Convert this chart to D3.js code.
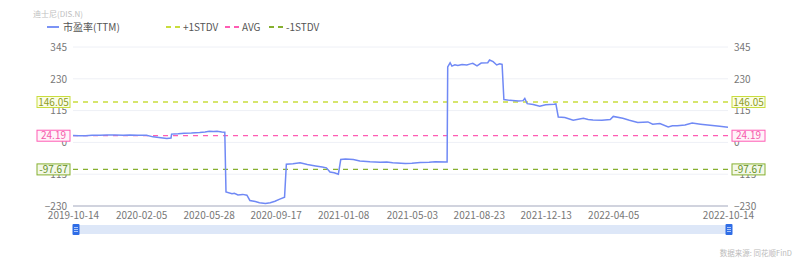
<!DOCTYPE html>
<html>
<head>
<meta charset="utf-8">
<script src="https://cdn.jsdelivr.net/npm/d3@7"></script>
<style>
  body { margin: 0; background: #fff; }
  text { font-family: "Noto Sans CJK SC", "Noto Sans", sans-serif; }
</style>
</head>
<body>
<div id="chart-area"></div>
<script>
const dates = [
  "2019-10-14", "2019-10-24", "2019-11-04", "2019-11-15", "2019-11-28", "2019-12-10",
  "2019-12-23", "2020-01-06", "2020-01-17", "2020-01-30", "2020-02-14",
  "2020-02-25", "2020-03-09", "2020-03-19", "2020-03-26", "2020-03-27", "2020-04-07",
  "2020-04-17", "2020-04-29", "2020-05-13", "2020-05-22", "2020-05-29", "2020-06-05",
  "2020-06-11", "2020-06-19", "2020-06-24", "2020-06-26",
  "2020-07-06", "2020-07-10", "2020-07-16", "2020-07-24", "2020-07-31", "2020-08-05",
  "2020-08-14", "2020-08-21", "2020-08-31", "2020-09-08", "2020-09-16", "2020-09-24",
  "2020-10-02", "2020-10-05", "2020-10-16", "2020-10-28", "2020-11-09", "2020-11-23",
  "2020-12-04", "2020-12-11", "2020-12-17", "2020-12-24", "2020-12-31", "2021-01-04",
  "2021-01-12", "2021-01-25", "2021-02-05", "2021-02-22", "2021-03-11", "2021-03-22",
  "2021-04-01", "2021-04-22", "2021-05-03", "2021-05-17", "2021-06-01", "2021-06-11",
  "2021-07-01", "2021-07-02", "2021-07-06", "2021-07-09", "2021-07-14", "2021-07-19",
  "2021-07-26", "2021-08-03", "2021-08-09", "2021-08-13", "2021-08-20", "2021-08-27",
  "2021-09-07", "2021-09-10", "2021-09-16", "2021-09-22", "2021-09-27", "2021-10-01",
  "2021-10-04", "2021-10-14", "2021-10-28", "2021-11-05", "2021-11-08", "2021-11-12",
  "2021-11-22", "2021-12-03", "2021-12-13", "2021-12-27", "2021-12-30", "2022-01-03",
  "2022-01-14", "2022-01-28", "2022-02-14", "2022-02-22", "2022-03-02", "2022-03-17",
  "2022-03-31", "2022-04-05", "2022-04-21", "2022-05-02", "2022-05-16", "2022-06-02",
  "2022-06-10", "2022-06-22", "2022-07-06", "2022-07-13", "2022-07-21", "2022-08-03",
  "2022-08-15", "2022-08-29", "2022-09-14", "2022-09-22", "2022-09-30", "2022-10-14"
];
const pe = [
  25, 24, 24, 26, 26, 27,
  27, 26, 27, 26, 26,
  20, 17, 14, 16, 30, 31,
  33, 34, 36, 38, 40, 39,
  40, 38, 37, -179,
  -186, -184, -190, -188, -191, -210,
  -214, -218, -221, -218, -213, -205,
  -198, -79, -77, -74, -80, -85,
  -89, -92, -107, -110, -115, -62,
  -60, -62, -67, -70, -72, -71,
  -74, -76, -75, -73, -72, -70,
  -71, 273, 288, 276, 281, 278,
  282, 280, 284, 286, 277, 287,
  288, 298, 292, 280, 284, 282,
  155, 152, 150, 151, 159, 140,
  137, 131, 136, 138, 139, 92,
  90, 80, 87, 83, 81, 80,
  83, 94, 87, 80, 72, 74,
  66, 68, 56, 60, 60, 63,
  70, 66, 62, 60, 58, 55
];
const tickDates = [
  "2019-10-14", "2020-02-05", "2020-05-28", "2020-09-17", "2021-01-08",
  "2021-05-03", "2021-08-23", "2021-12-13", "2022-04-05", "2022-10-14"
];
const yTicks = [345, 230, 115, 0, -115, -230];
const refNames = ["+1STDV", "AVG", "-1STDV"];
const refValues = [146.05, 24.19, -97.67];
const refColors = ["#c9dd3c", "#ff5cb4", "#86b030"];
const refTextColors = ["#8f9d1e", "#f55aab", "#65901e"];
const refFills = ["#fbfde9", "#fff3f9", "#f3f8e8"];

const width = 800;
const height = 263;
const plot = { left: 73, right: 728, top: 47, bottom: 206 };

const parse = d3.timeParse("%Y-%m-%d");
const data = dates.map((d, i) => ({ date: parse(d), value: pe[i] }));

const svg = d3.select("#chart-area")
  .append("svg")
    .attr("width", width)
    .attr("height", height);

const x = d3.scaleTime()
  .domain([parse(dates[0]), parse(dates[dates.length - 1])])
  .range([plot.left, plot.right]);

const y = d3.scaleLinear()
  .domain([-230, 345])
  .range([plot.bottom, plot.top]);

// title + legend
svg.append("text")
  .attr("x", 33)
  .attr("y", 17)
  .attr("font-size", "8px")
  .attr("fill", "#c0c0c0")
  .text("迪士尼(DIS.N)");

const legend = svg.append("g").attr("transform", "translate(0, 27)");
legend.append("line")
  .attr("x1", 47).attr("x2", 59)
  .attr("stroke", "#7b93f5").attr("stroke-width", 2);
legend.append("text")
  .attr("x", 63).attr("y", 3.5)
  .attr("font-size", "10px").attr("fill", "#555")
  .text("市盈率(TTM)");

const legendX = [166, 225, 269];
refNames.forEach((name, i) => {
  legend.append("line")
    .attr("x1", legendX[i]).attr("x2", legendX[i] + 14)
    .attr("stroke", refColors[i]).attr("stroke-width", 2)
    .attr("stroke-dasharray", "5,4");
  legend.append("text")
    .attr("x", legendX[i] + 17).attr("y", 3.5)
    .attr("font-size", "10px").attr("fill", "#555")
    .text(name);
});

// grid
svg.append("g")
  .selectAll("line")
  .data(yTicks.filter(d => d !== -230))
  .enter()
  .append("line")
    .attr("x1", plot.left).attr("x2", plot.right)
    .attr("y1", d => y(d)).attr("y2", d => y(d))
    .attr("stroke", "#eef0f6");

svg.append("line")
  .attr("x1", plot.left).attr("x2", plot.right)
  .attr("y1", y(-230)).attr("y2", y(-230))
  .attr("stroke", "#a2a7bd");

// y labels both sides
const yAxisLeft = d3.axisLeft(y).tickValues(yTicks).tickSize(0).tickPadding(6);
const yAxisRight = d3.axisRight(y).tickValues(yTicks).tickSize(0).tickPadding(6);

svg.append("g")
  .attr("class", "y-axis")
  .attr("transform", `translate(${plot.left}, 0)`)
  .call(yAxisLeft);

svg.append("g")
  .attr("class", "y-axis")
  .attr("transform", `translate(${plot.right}, 0)`)
  .call(yAxisRight);

svg.selectAll(".y-axis .domain").remove();
svg.selectAll(".y-axis text")
  .attr("font-size", "10px")
  .attr("fill", "#777")
  .attr("font-family", "\"Noto Sans\", sans-serif");

// x labels
const fmt = d3.timeFormat("%Y-%m-%d");
const xAxisCall = d3.axisBottom(x)
  .tickValues(tickDates.map(parse))
  .tickFormat(fmt)
  .tickSize(0)
  .tickPadding(6);

svg.append("g")
  .attr("class", "x-axis")
  .attr("transform", `translate(0, ${plot.bottom})`)
  .call(xAxisCall);

svg.selectAll(".x-axis .domain").remove();
svg.selectAll(".x-axis text")
  .attr("font-size", "10px")
  .attr("fill", "#777")
  .attr("font-family", "\"Noto Sans\", sans-serif");

// reference lines
refValues.forEach((v, i) => {
  svg.append("line")
    .attr("x1", plot.left).attr("x2", plot.right)
    .attr("y1", y(v)).attr("y2", y(v))
    .attr("stroke", refColors[i])
    .attr("stroke-width", 1.3)
    .attr("stroke-dasharray", "5,5");
});

// PE line
const line = d3.line()
  .x(d => x(d.date))
  .y(d => y(d.value));

svg.append("path")
  .datum(data)
  .attr("fill", "none")
  .attr("stroke", "#7089f5")
  .attr("stroke-width", 1.5)
  .attr("d", line);

// value boxes
refValues.forEach((v, i) => {
  [[37, 70], [732, 765]].forEach(([bx0, bx1]) => {
    svg.append("rect")
      .attr("x", bx0).attr("y", y(v) - 5.5)
      .attr("width", bx1 - bx0).attr("height", 11)
      .attr("fill", refFills[i])
      .attr("stroke", refColors[i]);
    svg.append("text")
      .attr("x", (bx0 + bx1) / 2).attr("y", y(v) + 3.5)
      .attr("text-anchor", "middle")
      .attr("font-size", "10px")
      .attr("font-family", "\"Noto Sans\", sans-serif")
      .attr("fill", refTextColors[i])
      .text(v.toFixed(2));
  });
});

// data zoom slider
svg.append("rect")
  .attr("x", plot.left).attr("y", 225)
  .attr("width", plot.right - plot.left).attr("height", 9)
  .attr("fill", "#dde7f8");

[76, 729].forEach(hx => {
  svg.append("rect")
    .attr("x", hx - 3.5).attr("y", 224)
    .attr("width", 7).attr("height", 11)
    .attr("rx", 1)
    .attr("fill", "#2f6de6");
  [227.5, 229.5, 231.5].forEach(ly => {
    svg.append("line")
      .attr("x1", hx - 2).attr("x2", hx + 2)
      .attr("y1", ly).attr("y2", ly)
      .attr("stroke", "#cfe0ff").attr("stroke-width", 0.8);
  });
});

svg.append("text")
  .attr("x", 792).attr("y", 256)
  .attr("text-anchor", "end")
  .attr("font-size", "7.5px")
  .attr("fill", "#bbb")
  .text("数据来源: 同花顺FinD");
</script>
</body>
</html>
